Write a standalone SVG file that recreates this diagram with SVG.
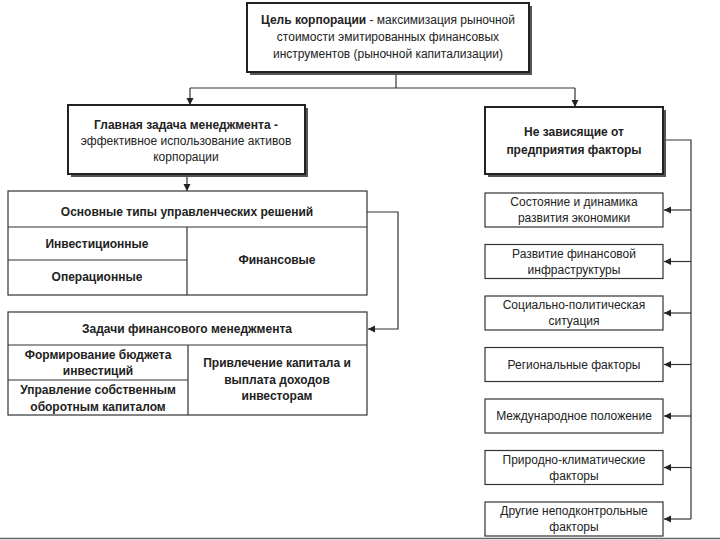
<svg xmlns="http://www.w3.org/2000/svg" width="720" height="540" viewBox="0 0 720 540">
<style>
text{font-family:"Liberation Sans",Arial,sans-serif;font-size:12px;fill:#222;text-anchor:middle}
.b{font-weight:bold}
.box{fill:#fff;stroke:#333;stroke-width:1.2}
.thick{fill:#fff;stroke:#222;stroke-width:2}
.sh{fill:#555}
.cell{fill:none;stroke:#333;stroke-width:1.2}
.con{fill:none;stroke:#333;stroke-width:1.2}
</style>
<defs>
<marker id="ah" viewBox="0 0 10 10" refX="10" refY="5" markerWidth="6" markerHeight="6" orient="auto">
<path d="M0,0 L10,5 L0,10 z" fill="#222"/>
</marker>
</defs>
<rect width="720" height="540" fill="#fff"/>

<g id="connectors">
<path class="con" d="M396,73 V88"/>
<path class="con" d="M190,88 H575"/>
<path class="con" d="M190,88 V105" marker-end="url(#ah)"/>
<path class="con" d="M575,88 V107" marker-end="url(#ah)"/>
<path class="con" d="M187,175 V191" marker-end="url(#ah)"/>
<path class="con" d="M367,212 H398 V329 H368" marker-end="url(#ah)"/>
<path class="con" d="M663,140 H691 V519"/>
<path class="con" d="M691,210 H664" marker-end="url(#ah)"/>
<path class="con" d="M691,261.5 H664" marker-end="url(#ah)"/>
<path class="con" d="M691,313 H664" marker-end="url(#ah)"/>
<path class="con" d="M691,364.5 H664" marker-end="url(#ah)"/>
<path class="con" d="M691,416 H664" marker-end="url(#ah)"/>
<path class="con" d="M691,467.5 H664" marker-end="url(#ah)"/>
<path class="con" d="M691,519 H664" marker-end="url(#ah)"/>
</g>

<g id="goal">
<rect class="sh" x="250" y="6" width="282" height="69"/>
<rect class="thick" x="247" y="3" width="282" height="69"/>
<text x="388" y="24"><tspan class="b">Цель корпорации</tspan> - максимизация рыночной</text>
<text x="388" y="41">стоимости эмитированных финансовых</text>
<text x="388" y="58">инструментов (рыночной капитализации)</text>
</g>

<g id="main-task">
<rect class="sh" x="71" y="108" width="237" height="69"/>
<rect class="thick" x="68" y="105" width="237" height="69"/>
<text x="186" y="129" class="b">Главная задача менеджмента -</text>
<text x="186" y="145">эффективное использование активов</text>
<text x="186" y="161">корпорации</text>
</g>

<g id="decision-types">
<rect class="box" x="8" y="191" width="359" height="104"/>
<path class="cell" d="M8,227 H367 M187,227 V295 M8,260 H187"/>
<text x="187" y="216" class="b">Основные типы управленческих решений</text>
<text x="97" y="248" class="b">Инвестиционные</text>
<text x="97" y="281" class="b">Операционные</text>
<text x="277" y="264" class="b">Финансовые</text>
</g>

<g id="fin-tasks">
<rect class="box" x="8" y="312" width="359" height="103"/>
<path class="cell" d="M8,345 H367 M188,345 V415 M8,380 H188"/>
<text x="187" y="333" class="b">Задачи финансового менеджмента</text>
<text x="98" y="359" class="b">Формирование бюджета</text>
<text x="98" y="375" class="b">инвестиций</text>
<text x="98" y="394" class="b">Управление собственным</text>
<text x="98" y="411" class="b">оборотным капиталом</text>
<text x="277" y="367" class="b">Привлечение капитала и</text>
<text x="277" y="384" class="b">выплата доходов</text>
<text x="277" y="400" class="b">инвесторам</text>
</g>

<g id="external">
<rect class="sh" x="488" y="110" width="178" height="67"/>
<rect class="thick" x="485" y="107" width="178" height="67"/>
<text x="574" y="136" class="b">Не зависящие от</text>
<text x="574" y="154" class="b">предприятия факторы</text>
</g>

<g id="f1">
<rect class="box" x="485" y="193" width="178" height="34"/>
<text x="574" y="206">Состояние и динамика</text>
<text x="574" y="222">развития экономики</text>
</g>
<g id="f2">
<rect class="box" x="485" y="244.5" width="178" height="34"/>
<text x="574" y="257.5">Развитие финансовой</text>
<text x="574" y="273.5">инфраструктуры</text>
</g>
<g id="f3">
<rect class="box" x="485" y="296" width="178" height="34"/>
<text x="574" y="309">Социально-политическая</text>
<text x="574" y="325">ситуация</text>
</g>
<g id="f4">
<rect class="box" x="485" y="347.5" width="178" height="34"/>
<text x="574" y="368.5">Региональные факторы</text>
</g>
<g id="f5">
<rect class="box" x="485" y="399" width="178" height="34"/>
<text x="574" y="420">Международное положение</text>
</g>
<g id="f6">
<rect class="box" x="485" y="450.5" width="178" height="34"/>
<text x="574" y="463.5">Природно-климатические</text>
<text x="574" y="479.5">факторы</text>
</g>
<g id="f7">
<rect class="box" x="485" y="502" width="178" height="34"/>
<text x="574" y="515">Другие неподконтрольные</text>
<text x="574" y="531">факторы</text>
</g>
<line x1="0" y1="538.5" x2="720" y2="538.5" stroke="#666" stroke-width="1.5"/>
</svg>
